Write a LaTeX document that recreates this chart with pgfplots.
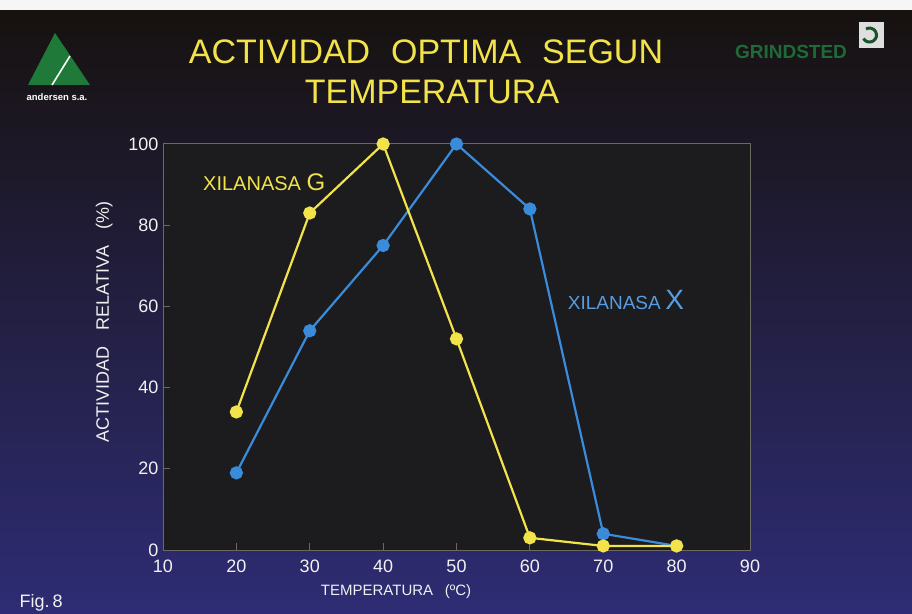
\documentclass[border=0pt]{standalone}
\usepackage{pgfplots}
\pgfplotsset{compat=1.18}
\usepackage{fontspec}
\setmainfont{Liberation Sans}
\definecolor{ylw}{HTML}{F2E34A}
\definecolor{blu}{HTML}{3A8CDB}
\definecolor{bgtop}{HTML}{17120F}
\definecolor{bgbot}{HTML}{2E2C74}
\definecolor{plotbg}{HTML}{1C1B1E}
\definecolor{axgray}{HTML}{6E6862}
\definecolor{logogreen}{HTML}{1F7A3A}
\definecolor{grgreen}{HTML}{1E6A38}
\begin{document}
\begin{tikzpicture}[x=1pt,y=1pt]
\path[use as bounding box] (0,0) rectangle (912,613);
\shade[top color=bgtop, bottom color=bgbot] (0,0) rectangle (912,603);
\fill[white!93!gray] (0,603) rectangle (912,613);
% andersen logo
\fill[logogreen] (28,528) -- (55,580) -- (90,528) -- cycle;
\draw[white, line width=1.6pt] (52,528) -- (70,557);
\node[white, font=\bfseries\fontsize{9.5}{10}\selectfont] at (57,516) {andersen s.a.};
% grindsted logo
\node[grgreen, font=\bfseries\fontsize{19}{20}\selectfont] at (791,561) {GRINDSTED};
\fill[gray!25] (859,565) rectangle (884,591);
\draw[logogreen!70!black, line width=3pt] (866,584) arc (120:-150:7);
% titles
\node[ylw, font=\fontsize{34}{36}\selectfont] at (426,561) {ACTIVIDAD\,\, OPTIMA\,\, SEGUN};
\node[ylw, font=\fontsize{34}{36}\selectfont] at (432,521) {TEMPERATURA};
\node[white!90!gray, anchor=west, font=\fontsize{18}{19}\selectfont] at (16,10) {Fig.\,8};
\begin{axis}[
  at={(163pt,63pt)}, anchor=south west,
  scale only axis, width=587pt, height=406pt,
  xmin=10, xmax=90, ymin=0, ymax=100,
  xtick={10,20,...,90}, ytick={0,20,...,100},
  axis background/.style={fill=plotbg},
  axis line style={axgray, line width=1pt},
  tick style={axgray, line width=1pt},
  major tick length=7pt, tick align=inside,
  xtick pos=bottom, ytick pos=left,
  /pgf/number format/assume math mode=true,
  ticklabel style={text=white!90!gray, font=\fontsize{18}{18}\selectfont},
  xticklabel style={yshift=-6pt},
  yticklabel style={xshift=-1pt},
  xlabel={TEMPERATURA\,\,\, (ºC)},
  ylabel={ACTIVIDAD\hspace{0.9em}RELATIVA\hspace{0.9em}(\%)},
  xlabel style={text=white!88!gray, font=\fontsize{15}{16}\selectfont, at={(axis description cs:0.397,-0.103)}, anchor=center},
  ylabel style={text=white!88!gray, font=\fontsize{18}{19}\selectfont, at={(axis description cs:-0.1,0.5616)}, anchor=center},
  clip=false,
]
\addplot[blu, line width=2.2pt, mark=*, mark size=5.5pt, mark options={fill=blu, draw=blu}]
coordinates {(20,19) (30,54) (40,75) (50,100) (60,84) (70,4) (80,1)};
\addplot[ylw, line width=2.2pt, mark=*, mark size=5.5pt, mark options={fill=ylw, draw=ylw}]
coordinates {(20,34) (30,83) (40,100) (50,52) (60,3) (70,1) (80,1)};
\node[ylw, anchor=west, font=\fontsize{20}{20}\selectfont] at (axis cs:15,90.5) {XILANASA {\fontsize{24}{24}\selectfont G}};
\node[blu!85!white, anchor=west, font=\fontsize{19}{20}\selectfont] at (axis cs:64.7,61.6) {XILANASA{\fontsize{28}{28}\selectfont\,X}};
\end{axis}
\end{tikzpicture}
\end{document}
